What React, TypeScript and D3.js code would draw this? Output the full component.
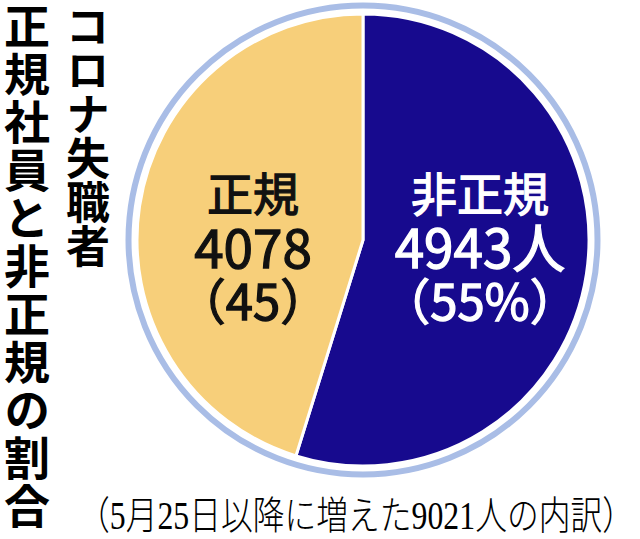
import React from "react";
import * as d3 from "d3";

const categories = ["非正規", "正規"];
const values = [4943, 4078];
const valueLabels = ["4943人", "4078"];
const shareLabels = ["（55%）", "（45）"];
const colors = ["#170a8e", "#f7cf7a"];
const textColors = ["#ffffff", "#111111"];
const titleLine1 = "コロナ失職者";
const titleLine2 = "正規社員と非正規の割合";
const footnote = "（5月25日以降に増えた9021人の内訳）";

const W = 640;
const H = 539;
const cx = 363;
const cy = 240;
const R = 226;

export default function App() {
  const pie = d3.pie<number>().sort(null).value((d) => d);
  const arcs = pie(values);
  const arc = d3.arc<d3.PieArcDatum<number>>().innerRadius(0).outerRadius(R);
  const labelX = [480, 253];
  const jp = "'Noto Sans CJK JP', 'Noto Sans', sans-serif";
  return (
    <svg
      width={W}
      height={H}
      style={{ position: "absolute", left: 0, top: 0, background: "#fff" }}
    >
      <g transform={`translate(${cx},${cy})`}>
        <circle r={R + 8.5} fill="none" stroke="#a9bde6" strokeWidth={6} />
        {arcs.map((a, i) => (
          <path key={i} d={arc(a) || ""} fill={colors[i]} stroke="#fff" strokeWidth={3} />
        ))}
      </g>
      {arcs.map((a, i) => (
        <g
          key={"l" + i}
          fill={textColors[i]}
          stroke={textColors[i]}
          strokeWidth={1.3}
          fontFamily={jp}
          textAnchor="middle"
          fontWeight={400}
        >
          <text x={labelX[i]} y={211} fontSize={46}>
            {categories[i]}
          </text>
          <text x={labelX[i]} y={268} fontSize={53}>
            {valueLabels[i]}
          </text>
          <text x={labelX[i]} y={320} fontSize={49}>
            {shareLabels[i]}
          </text>
        </g>
      ))}
      <g fontFamily={jp} fontWeight={700} fill="#000">
        <text
          x={88}
          y={4}
          fontSize={44}
          style={{ writingMode: "vertical-rl" as any }}
        >
          {titleLine1}
        </text>
        <text
          x={27}
          y={3}
          fontSize={46}
          letterSpacing={2}
          style={{ writingMode: "vertical-rl" as any }}
        >
          {titleLine2}
        </text>
      </g>
      <text
        x={78}
        y={529}
        fontSize={39}
        fontFamily="'Liberation Serif', 'Noto Sans CJK JP', serif"
        fontWeight={300}
        textLength={556}
        lengthAdjust="spacingAndGlyphs"
        fill="#000"
      >
        {footnote}
      </text>
    </svg>
  );
}
